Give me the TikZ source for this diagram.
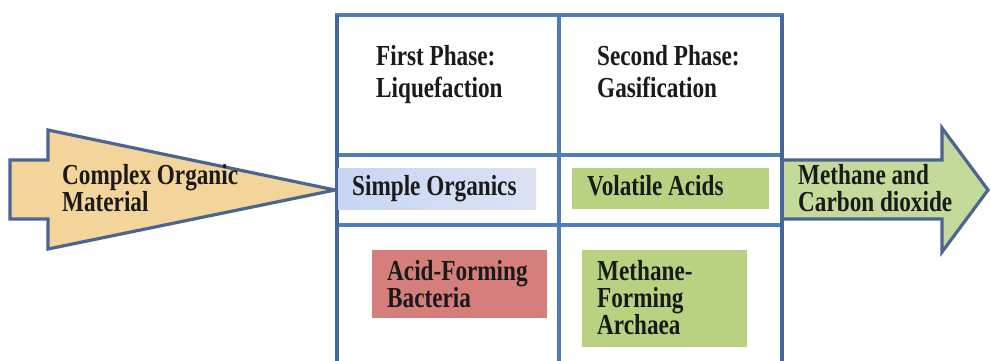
\documentclass[tikz,border=0pt]{standalone}
\usepackage{fontspec}
\setmainfont[FakeStretch=0.80]{Liberation Serif}
\definecolor{txt}{HTML}{1A1A1A}
\definecolor{gridblue}{HTML}{4F7CBA}
\definecolor{griddark}{HTML}{45679A}
\definecolor{arrowline}{HTML}{4A6690}
\definecolor{tanfill}{HTML}{F3D59C}
\definecolor{greenarrow}{HTML}{C4D99A}
\definecolor{greenbox}{HTML}{B8D282}
\definecolor{redbox}{HTML}{D57E7B}
\definecolor{blueA}{HTML}{C8D6F2}
\definecolor{blueB}{HTML}{DCE2F5}
\begin{document}
\begin{tikzpicture}[x=1pt,y=-1pt,
  lbl/.style={anchor=base west, inner sep=0, align=left,
    font=\fontsize{29}{27}\selectfont\bfseries, text=txt},
  head/.style={lbl, font=\fontsize{29}{32}\selectfont\bfseries},
  cell/.style={anchor=north west, inner sep=0, outer sep=0, draw=none},
  bigarrow/.style={draw=arrowline, line width=3.2pt, line join=miter},
  gridline/.style={draw=gridblue, line width=3.2pt},
  outerline/.style={draw=griddark, line width=3.2pt}]
\useasboundingbox (0,0) rectangle (991,360);
\fill[white] (0,0) rectangle (991,360);

% big arrows
\path[bigarrow, fill=tanfill] (10,160) -- (48,160) -- (48,130) -- (335,190)
  -- (48,249) -- (48,219) -- (10,219) -- cycle;
\path[bigarrow, fill=greenarrow] (782,160) -- (942,160) -- (942,128) -- (988,190)
  -- (942,252) -- (942,219) -- (782,219) -- cycle;

% grid
\coordinate (gTL) at (337,15);
\coordinate (gTR) at (782,15);
\coordinate (gTM) at (559,15);
\coordinate (gBL) at (337,362);
\coordinate (gBR) at (782,362);
\coordinate (gBM) at (559,362);
\coordinate (h1L) at (337,155);
\coordinate (h1R) at (782,155);
\coordinate (h2L) at (337,225);
\coordinate (h2R) at (782,225);
\draw[gridline] (gTM) -- (gBM);
\draw[gridline] (h1L) -- (h1R);
\draw[gridline] (h2L) -- (h2R);
\draw[gridline, line cap=rect] (gTL) -- (gTR);
\draw[outerline] (gTL) -- (gBL);
\draw[outerline] (gTR) -- (gBR);

% coloured boxes
\node[cell, minimum width=198pt, minimum height=41pt, left color=blueA, right color=blueB] (so) at (338,168) {};
\node[cell, minimum width=197pt, minimum height=41pt, fill=greenbox] (va) at (572,168) {};
\node[cell, minimum width=175pt, minimum height=68pt, fill=redbox] (afb) at (372,250) {};
\node[cell, minimum width=165pt, minimum height=97pt, fill=greenbox] (mfa) at (582,250) {};

% texts (base anchor = baseline of the last line)
\node[head] (t1) at (376,97) {First Phase:\\Liquefaction};
\node[head] (t2) at (597,97) {Second Phase:\\Gasification};
\node[lbl] (tso) at (352,195) {Simple Organics};
\node[lbl] (tva) at (587,195) {Volatile Acids};
\node[lbl] (tafb) at (387,307) {Acid-Forming\\Bacteria};
\node[lbl] (tmfa) at (597,334) {Methane-\\Forming\\Archaea};
\node[lbl] (tcom) at (62,211) {Complex Organic\\Material};
\node[lbl] (tmc) at (798,211) {Methane and\\Carbon dioxide};
\end{tikzpicture}
\end{document}
